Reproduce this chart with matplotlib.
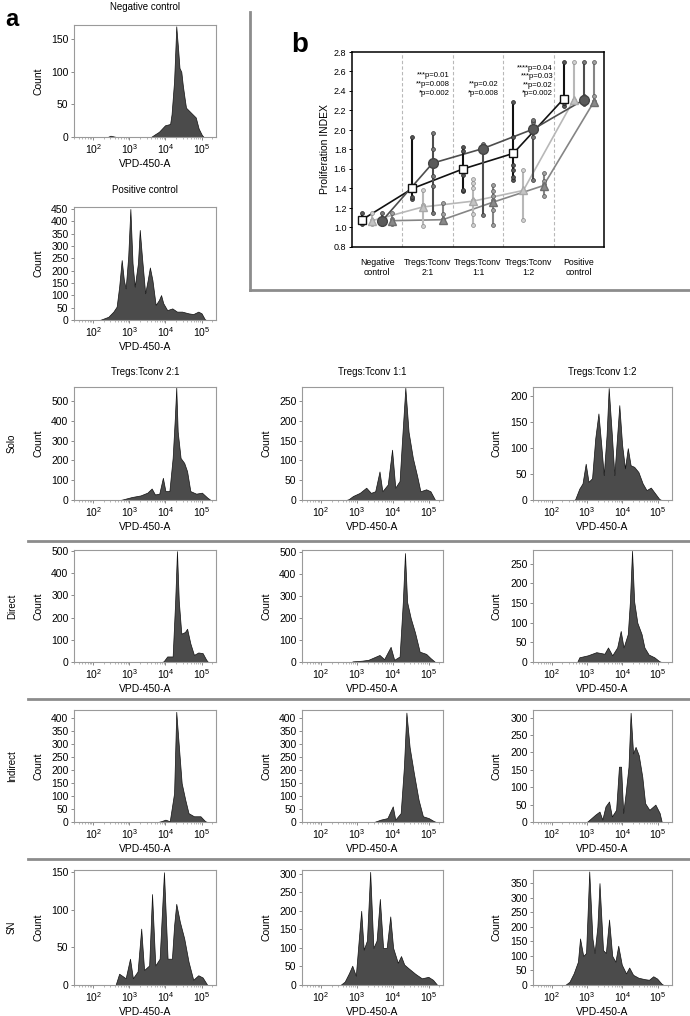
import numpy as np
import matplotlib.pyplot as plt
from matplotlib.lines import Line2D

plt.rcParams['font.family'] = ['Liberation Sans', 'DejaVu Sans']
plt.rcParams['mathtext.fontset'] = 'custom'
plt.rcParams['mathtext.rm'] = 'Liberation Sans'
plt.rcParams['mathtext.it'] = 'Liberation Sans:italic'
plt.rcParams['mathtext.bf'] = 'Liberation Sans:bold'

# ---------------- panel a: histograms (log10 intensity, count) ----------------
neg_logx = [2.40, 2.48, 2.56, 2.64, 3.60, 3.68, 3.82, 3.99, 4.13, 4.17, 4.24, 4.28, 4.30,
            4.35, 4.39, 4.44, 4.48, 4.53, 4.57, 4.66, 4.75, 4.84, 4.92, 5.01, 5.06]
neg_count = [0, 2, 1, 0, 0, 3, 8, 18, 20, 35, 86, 141, 170,
             136, 106, 100, 80, 60, 45, 40, 35, 30, 13, 3, 0]

pos_logx = [2.18, 2.24, 2.42, 2.56, 2.65, 2.72, 2.79, 2.85, 2.90, 2.97, 3.03, 3.09, 3.15,
            3.24, 3.29, 3.35, 3.44, 3.51, 3.57, 3.64, 3.73, 3.82, 3.88, 3.94, 4.05,
            4.19, 4.32, 4.46, 4.64, 4.77, 4.91, 5.00, 5.09, 5.13]
pos_count = [0, 3, 13, 34, 54, 135, 243, 162, 128, 257, 450, 230, 135,
             230, 365, 257, 108, 162, 213, 162, 61, 81, 101, 68, 40,
             47, 34, 34, 27, 24, 34, 27, 3, 0]

solo21_logx = [2.75, 2.82, 3.07, 3.31, 3.50, 3.62, 3.71, 3.83, 3.93, 4.00, 4.11, 4.20, 4.26,
               4.30, 4.34, 4.42, 4.52, 4.60, 4.69, 4.85, 5.01, 5.16, 5.25]
solo21_count = [0, 3, 15, 23, 37, 58, 28, 32, 112, 45, 45, 212, 412,
                567, 345, 212, 187, 145, 45, 32, 37, 12, 0]

solo11_logx = [2.70, 2.77, 2.89, 3.08, 3.26, 3.39, 3.51, 3.63, 3.71, 3.86, 3.98, 4.07, 4.19,
               4.25, 4.35, 4.44, 4.56, 4.68, 4.77, 4.93, 5.05, 5.18]
solo11_count = [0, 2, 10, 18, 31, 18, 22, 72, 22, 39, 127, 31, 48,
                139, 283, 172, 106, 60, 22, 27, 22, 0]

solo12_logx = [2.62, 2.66, 2.78, 2.87, 2.96, 3.04, 3.14, 3.23, 3.32, 3.40, 3.47, 3.55, 3.61,
               3.70, 3.77, 3.85, 3.91, 3.99, 4.07, 4.15, 4.23, 4.33, 4.45, 4.57, 4.68,
               4.80, 4.92, 5.04, 5.10]
solo12_count = [0, 1, 22, 32, 70, 35, 42, 119, 167, 106, 48, 125, 216,
                125, 48, 125, 183, 106, 61, 100, 67, 64, 54, 32, 19,
                24, 13, 2, 0]

direct21_logx = [3.90, 3.95, 4.05, 4.20, 4.27, 4.32, 4.37, 4.44, 4.54, 4.60, 4.69, 4.79,
                 4.91, 5.03, 5.13, 5.18]
direct21_count = [0, 3, 25, 25, 275, 500, 275, 128, 135, 150, 84, 32,
                  43, 40, 10, 0]

direct11_logx = [2.84, 2.89, 3.14, 3.32, 3.63, 3.76, 3.94, 4.04, 4.19, 4.28, 4.34, 4.40,
                 4.50, 4.62, 4.75, 4.93, 5.05, 5.18]
direct11_count = [0, 3, 6, 10, 32, 13, 69, 10, 25, 273, 496, 273,
                  200, 134, 47, 37, 18, 0]

direct12_logx = [2.72, 2.78, 3.02, 3.26, 3.49, 3.59, 3.71, 3.85, 3.95, 4.03, 4.15, 4.21,
                 4.27, 4.33, 4.42, 4.54, 4.62, 4.74, 4.90, 5.04, 5.10]
direct12_count = [0, 12, 17, 25, 21, 37, 17, 37, 79, 37, 71, 154,
                  283, 154, 100, 71, 37, 19, 12, 2, 0]

indirect21_logx = [3.79, 3.88, 4.00, 4.12, 4.24, 4.30, 4.38, 4.45, 4.55, 4.64, 4.79, 4.97,
                   5.10, 5.16]
indirect21_count = [0, 3, 9, 3, 111, 423, 276, 149, 85, 34, 22, 22, 3, 0]

indirect11_logx = [3.48, 3.54, 3.66, 3.85, 4.00, 4.07, 4.22, 4.31, 4.38, 4.47, 4.59, 4.72,
                   4.84, 5.00, 5.15, 5.21]
indirect11_count = [0, 3, 9, 15, 60, 9, 34, 211, 420, 287, 186, 85, 22, 15, 3, 0]

indirect12_logx = [2.99, 3.05, 3.23, 3.35, 3.43, 3.52, 3.62, 3.70, 3.82, 3.90, 3.96, 4.02,
                   4.09, 4.17, 4.23, 4.30, 4.37, 4.46, 4.56, 4.64, 4.76, 4.93, 5.05, 5.11]
indirect12_count = [0, 5, 21, 30, 7, 45, 59, 16, 35, 159, 159, 26,
                    83, 159, 314, 197, 216, 192, 130, 54, 35, 50, 26, 0]

sn21_logx = [2.62, 2.72, 2.90, 3.02, 3.10, 3.23, 3.33, 3.41, 3.55, 3.63, 3.72, 3.84,
             3.96, 4.06, 4.18, 4.24, 4.30, 4.40, 4.52, 4.64, 4.77, 4.91, 5.03, 5.16]
sn21_count = [0, 15, 9, 35, 9, 18, 75, 20, 26, 121, 26, 35,
              150, 35, 35, 79, 108, 84, 62, 31, 7, 13, 10, 0]

sn11_logx = [2.54, 2.66, 2.78, 2.87, 2.97, 3.05, 3.12, 3.19, 3.28, 3.37, 3.46, 3.55,
             3.64, 3.73, 3.83, 3.93, 4.01, 4.14, 4.23, 4.32, 4.44, 4.63, 4.81, 4.99,
             5.12, 5.24]
sn11_count = [0, 9, 32, 52, 25, 120, 200, 95, 120, 305, 100, 120,
              232, 100, 100, 185, 100, 60, 78, 55, 45, 30, 18, 22,
              14, 0]

sn12_logx = [2.38, 2.50, 2.62, 2.74, 2.80, 2.89, 2.97, 3.06, 3.15, 3.21, 3.29, 3.35,
             3.45, 3.53, 3.62, 3.71, 3.80, 3.88, 3.98, 4.10, 4.19, 4.30, 4.45, 4.63,
             4.75, 4.87, 4.98, 5.10, 5.16]
sn12_count = [0, 11, 40, 80, 160, 100, 110, 390, 160, 110, 200, 350,
              120, 110, 225, 100, 80, 135, 70, 40, 60, 35, 25, 20,
              18, 30, 22, 5, 0]

col_titles = ['Tregs:Tconv 2:1', 'Tregs:Tconv 1:1', 'Tregs:Tconv 1:2']
row_labels = ['Solo', 'Direct', 'Indirect', 'SN']

# ---------------- panel b: proliferation index ----------------
group_labels = ['Negative\ncontrol', 'Tregs:Tconv\n2:1', 'Tregs:Tconv\n1:1',
                'Tregs:Tconv\n1:2', 'Positive\ncontrol']
sq_mean = [1.08, 1.40, 1.60, 1.76, 2.32]
lt_mean = [1.07, 1.21, 1.27, 1.38, 2.31]
dk_mean = [1.07, 1.66, 1.81, 2.01, 2.31]
md_mean = [1.07, 1.08, 1.26, 1.43, 2.29]
sq_pts = [[1.04, 1.06, 1.09, 1.15], [1.29, 1.31, 1.93], [1.37, 1.38, 1.54, 1.78, 1.83],
          [1.49, 1.52, 1.59, 1.64, 1.93, 2.29], [2.25, 2.28, 2.32, 2.70]]
lt_pts = [[1.04, 1.06, 1.08, 1.15], [1.02, 1.21, 1.23, 1.38],
          [1.03, 1.14, 1.28, 1.40, 1.46, 1.50], [1.08, 1.36, 1.59], [2.29, 2.31, 2.70]]
dk_pts = [[1.04, 1.06, 1.08, 1.15], [1.15, 1.43, 1.53, 1.80, 1.97], [1.13, 1.82, 1.86],
          [1.49, 1.93, 2.08, 2.10], [2.27, 2.30, 2.35, 2.70]]
md_pts = [[1.04, 1.06, 1.09, 1.15], [1.07, 1.09, 1.14, 1.25],
          [1.03, 1.18, 1.28, 1.32, 1.37, 1.44], [1.32, 1.40, 1.45, 1.48, 1.56],
          [2.27, 2.30, 2.35, 2.70]]
pvals = [(1.94, 2.556, '***p=0.01'), (1.94, 2.47, '**p=0.008'), (1.94, 2.37, '*p=0.002'),
         (2.91, 2.47, '**p=0.02'), (2.91, 2.37, '*p=0.008'),
         (3.99, 2.63, '****p=0.04'), (3.99, 2.55, '***p=0.03'),
         (3.99, 2.46, '**p=0.02'), (3.99, 2.37, '*p=0.002')]

W, H = 690, 1016
fig = plt.figure(figsize=(W / 100, H / 100), dpi=100)


def box(l, t, r, b):
    return [l / W, 1 - b / H, (r - l) / W, (b - t) / H]


def hist_panel(l, t, r, b, logx, counts, ymax, ystep):
    ax = fig.add_axes(box(l, t, r, b))
    x = 10.0 ** np.asarray(logx)
    ax.fill_between(x, counts, 0, facecolor='#4b4b4b', edgecolor='#111111', linewidth=0.5)
    ax.set_xscale('log')
    ax.set_xlim(10 ** 1.47, 10 ** 5.40)
    ax.set_ylim(0, ymax)
    ax.set_yticks(np.arange(0, ymax, ystep))
    ax.set_xticks([1e2, 1e3, 1e4, 1e5])
    for s in ax.spines.values():
        s.set_color('#9a9a9a')
        s.set_linewidth(0.8)
    ax.tick_params(labelsize=7.5, length=2.5, width=0.6, color='#777777', pad=1.5)
    ax.tick_params(axis='x', which='minor', length=1.5, width=0.5, color='#999999')
    fig.text((l - 36) / W, 1 - (t + b) / 2 / H, 'Count', rotation=90,
             ha='center', va='center', fontsize=7.5)
    fig.text((l + r) / 2 / W, 1 - (b + 27) / H, 'VPD-450-A',
             ha='center', va='center', fontsize=7.5)
    return ax


fig.text(5 / W, 1 - 20 / H, 'a', fontsize=17, fontweight='bold', va='center')
fig.text(145 / W, 1 - 7 / H, 'Negative control', ha='center', va='center', fontsize=7)
hist_panel(74, 25, 216, 137, neg_logx, neg_count, 172, 50)
fig.text(145 / W, 1 - 190 / H, 'Positive control', ha='center', va='center', fontsize=7)
hist_panel(74, 207, 216, 320, pos_logx, pos_count, 458, 50)

cols = [(74, 216), (302, 443), (533, 672)]
rows = [(387, 500), (550, 662), (710, 822), (870, 985)]
grid = [
    [(solo21_logx, solo21_count, 570, 100), (solo11_logx, solo11_count, 285, 50),
     (solo12_logx, solo12_count, 218, 50)],
    [(direct21_logx, direct21_count, 505, 100), (direct11_logx, direct11_count, 510, 100),
     (direct12_logx, direct12_count, 285, 50)],
    [(indirect21_logx, indirect21_count, 430, 50), (indirect11_logx, indirect11_count, 430, 50),
     (indirect12_logx, indirect12_count, 322, 50)],
    [(sn21_logx, sn21_count, 153, 50), (sn11_logx, sn11_count, 310, 50),
     (sn12_logx, sn12_count, 395, 50)],
]
for ri, (t, b) in enumerate(rows):
    fig.text(12 / W, 1 - (t + b) / 2 / H, row_labels[ri], rotation=90,
             ha='center', va='center', fontsize=7)
    for ci, (l, r) in enumerate(cols):
        lx, cnt, ymax, ystep = grid[ri][ci]
        hist_panel(l, t, r, b, lx, cnt, ymax, ystep)
for ci, (l, r) in enumerate(cols):
    fig.text((l + r) / 2 / W, 1 - 372 / H, col_titles[ci], ha='center', va='center', fontsize=7)

# separators
sep_col = '#8c8c8c'
for y in [541, 699, 859]:
    fig.add_artist(Line2D([28 / W, 1], [1 - y / H, 1 - y / H], color=sep_col, lw=2))
fig.add_artist(Line2D([250 / W, 250 / W], [1 - 12 / H, 1 - 290 / H], color=sep_col, lw=2))
fig.add_artist(Line2D([250 / W, 1], [1 - 290 / H, 1 - 290 / H], color=sep_col, lw=2))

# ---------------- panel b ----------------
fig.text(300 / W, 1 - 45 / H, 'b', fontsize=20, fontweight='bold', ha='center', va='center')
axb = fig.add_axes(box(352, 52, 604, 247))
for xb in [1, 2, 3, 4]:
    axb.axvline(xb, color='#b8b8b8', lw=0.8, ls=(0, (3, 2)), zorder=0)

offsets = [0.2, 0.4, 0.6, 0.8]
series = [
    dict(mean=sq_mean, pts=sq_pts, lc='#111111', m='s', mfc='white', mec='#111111', ms=6,
         pfc='#555555', pec='#222222'),
    dict(mean=lt_mean, pts=lt_pts, lc='#b8b8b8', m='^', mfc='#c4c4c4', mec='#a8a8a8', ms=6,
         pfc='#d0d0d0', pec='#8a8a8a'),
    dict(mean=dk_mean, pts=dk_pts, lc='#4d4d4d', m='o', mfc='#5a5a5a', mec='#444444', ms=7,
         pfc='#7a7a7a', pec='#333333'),
    dict(mean=md_mean, pts=md_pts, lc='#858585', m='^', mfc='#8a8a8a', mec='#6e6e6e', ms=6,
         pfc='#a0a0a0', pec='#555555'),
]
groups = np.arange(len(group_labels))
for si, s in enumerate(series):
    xs = groups + offsets[si]
    axb.plot(xs, s['mean'], color=s['lc'], lw=1.2, zorder=2)
    for g, pts in enumerate(s['pts']):
        axb.vlines(xs[g], min(pts), max(pts), color=s['lc'], lw=1.5, zorder=3)
        axb.plot([xs[g]] * len(pts), pts, 'o', ms=2.8, mfc=s['pfc'], mec=s['pec'],
                 mew=0.5, zorder=4)
    axb.plot(xs, s['mean'], ls='none', marker=s['m'], ms=s['ms'], mfc=s['mfc'],
             mec=s['mec'], mew=1.0, zorder=5)

for x, y, txt in pvals:
    axb.text(x, y, txt, ha='right', va='center', fontsize=5.6)

axb.set_xlim(0, 5)
axb.set_ylim(0.8, 2.8)
axb.set_yticks(np.arange(0.8, 2.81, 0.2))
axb.set_yticklabels([f'{v:.1f}' for v in np.arange(0.8, 2.81, 0.2)])
axb.set_xticks(groups + 0.5)
axb.set_xticklabels(group_labels, fontsize=6.3, linespacing=1.1)
axb.tick_params(axis='x', length=0, pad=8)
axb.tick_params(axis='y', labelsize=6.5, length=2.5, width=0.7, pad=1.5)
for s in axb.spines.values():
    s.set_linewidth(1.1)
    s.set_color('black')
axb.set_ylabel('Proliferation INDEX', fontsize=7.5, labelpad=3)

fig.savefig('out.png', dpi=100)
